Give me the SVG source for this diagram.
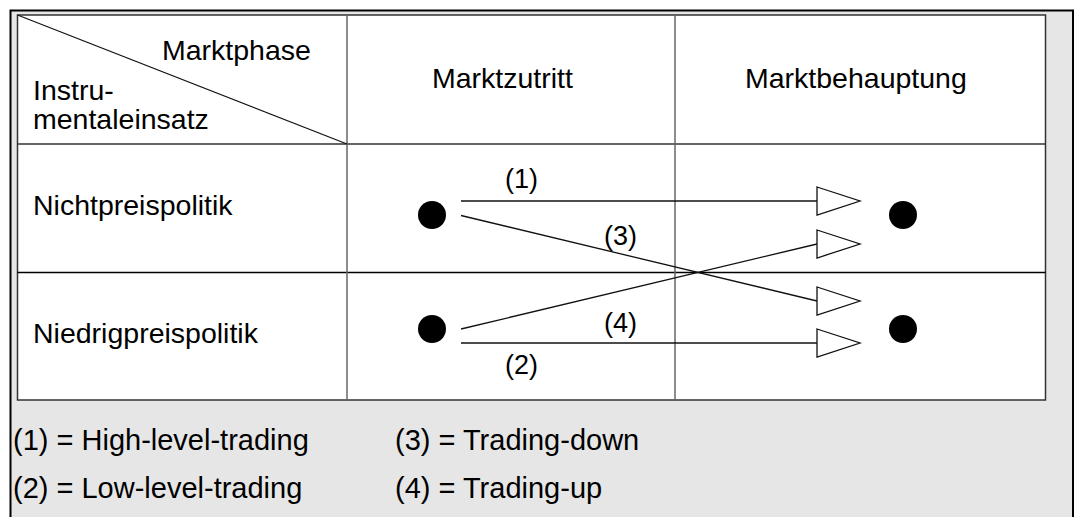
<svg xmlns="http://www.w3.org/2000/svg" width="1084" height="517" viewBox="0 0 1084 517">
  <style>
    text { font-family: "Liberation Sans", Arial, sans-serif; fill: #000; }
    .cell { font-size: 28.5px; }
    .num { font-size: 27px; }
    .legend { font-size: 29px; }
    .grid { stroke: #333; stroke-width: 1.5; }
    .vgrid { stroke: #666; stroke-width: 1.5; }
    .flow { stroke: #111; stroke-width: 1.3; fill: none; }
    .dot { fill: #000; }
  </style>
  <defs>
    <!-- open, horizontally oriented arrowhead: base at x=0, tip at x=43 -->
    <polygon id="head" points="0,-14 43,0 0,14" fill="#fff" stroke="#111" stroke-width="1.3"/>
  </defs>

  <!-- page frame -->
  <rect x="0" y="0" width="1084" height="517" fill="#fff"/>
  <rect x="10.5" y="10.5" width="1062.5" height="530" fill="#e6e6e6" stroke="#000" stroke-width="2"/>

  <!-- matrix -->
  <g id="matrix">
    <rect x="17.5" y="15" width="1028" height="385" fill="#fff" stroke="#333" stroke-width="1.5"/>
    <line x1="17.5" y1="144" x2="1045.5" y2="144" class="grid"/>
    <line x1="17.5" y1="272.5" x2="1045.5" y2="272.5" stroke="#000" stroke-width="1.5"/>
    <line x1="347" y1="15" x2="347" y2="400" class="vgrid"/>
    <line x1="675" y1="15" x2="675" y2="400" class="vgrid"/>
    <line x1="17.5" y1="15" x2="347" y2="144" stroke="#111" stroke-width="1.2"/>
  </g>

  <!-- header cells -->
  <g id="corner">
    <text class="cell" x="162" y="60">Marktphase</text>
    <text class="cell" x="33" y="100">Instru-</text>
    <text class="cell" x="33" y="129">mentaleinsatz</text>
  </g>
  <g id="col-zutritt">
    <text class="cell" x="432" y="88">Marktzutritt</text>
  </g>
  <g id="col-behauptung">
    <text class="cell" x="745" y="88">Marktbehauptung</text>
  </g>
  <g id="row-nichtpreis">
    <text class="cell" x="33" y="215">Nichtpreispolitik</text>
  </g>
  <g id="row-niedrigpreis">
    <text class="cell" x="33" y="343">Niedrigpreispolitik</text>
  </g>

  <!-- positions -->
  <g id="start-high"><circle class="dot" cx="432" cy="215" r="14"/></g>
  <g id="start-low"><circle class="dot" cx="432" cy="329" r="14"/></g>
  <g id="end-high"><circle class="dot" cx="903" cy="215" r="14"/></g>
  <g id="end-low"><circle class="dot" cx="903" cy="329" r="14"/></g>

  <!-- strategy connectors -->
  <g id="connectors">
    <line class="flow" x1="461" y1="201" x2="817" y2="201"/>
    <line class="flow" x1="461" y1="215.5" x2="817" y2="301"/>
    <line class="flow" x1="461" y1="329" x2="817" y2="244"/>
    <line class="flow" x1="461" y1="343" x2="817" y2="343"/>
    <use href="#head" x="817" y="201"/>
    <use href="#head" x="817" y="244"/>
    <use href="#head" x="817" y="301"/>
    <use href="#head" x="817" y="343"/>
    <text class="num" x="505" y="188">(1)</text>
    <text class="num" x="604" y="245">(3)</text>
    <text class="num" x="604" y="332">(4)</text>
    <text class="num" x="505" y="374">(2)</text>
  </g>

  <!-- key -->
  <g id="legend">
    <text class="legend" x="13" y="450">(1) = High-level-trading</text>
    <text class="legend" x="395" y="450">(3) = Trading-down</text>
    <text class="legend" x="13" y="498">(2) = Low-level-trading</text>
    <text class="legend" x="395" y="498">(4) = Trading-up</text>
  </g>
</svg>
